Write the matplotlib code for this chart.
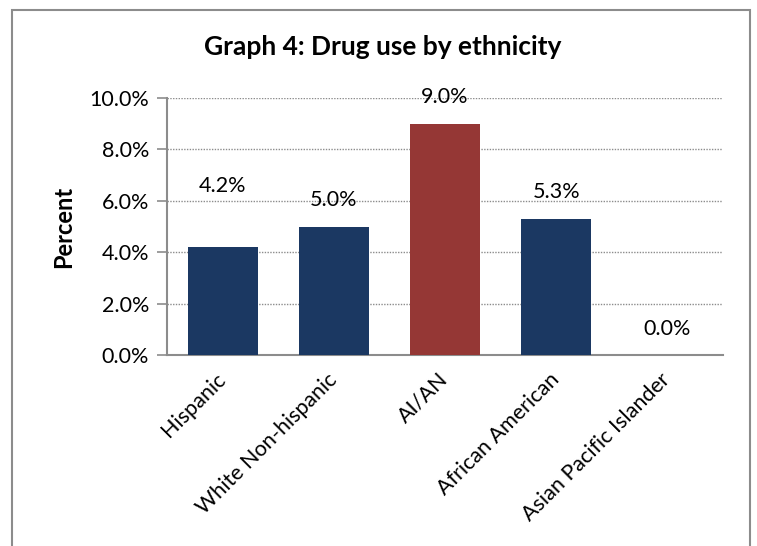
import matplotlib
matplotlib.use("Agg")
import matplotlib.pyplot as plt
from matplotlib.patches import Rectangle
from matplotlib.ticker import FuncFormatter

categories = ["Hispanic", "White Non-hispanic", "AI/AN", "African American", "Asian Pacific Islander"]
values = [4.2, 5.0, 9.0, 5.3, 0.0]
label_offsets_pt = [44, 19, 19, 19, 19]
bar_colors = ["#1B3862", "#1B3862", "#953735", "#1B3862", "#1B3862"]
yticks = [0, 2, 4, 6, 8, 10]

plt.rcParams['font.family'] = ['Lato', 'DejaVu Sans']

fig = plt.figure(figsize=(7.57, 5.46), dpi=100)
fig.patches.append(Rectangle((12/757, -0.05), (750-12)/757, 1.05 - 10/546,
                             transform=fig.transFigure, fill=False,
                             edgecolor="#8C8C8C", linewidth=1.5))
ax = fig.add_axes([167/757, 1-355/546, (723-167)/757, (355-98)/546])

x = range(len(categories))
ax.bar(x, values, width=0.63, color=bar_colors, zorder=3)
ax.set_xlim(-0.5, len(categories) - 0.5)
ax.set_ylim(0, 10)
ax.set_yticks(yticks)
ax.yaxis.set_major_formatter(FuncFormatter(lambda v, p: f"{v:.1f}%"))
ax.tick_params(axis='y', labelsize=15.5, length=7, color="#8C8C8C", pad=6, width=1.2)
ax.tick_params(axis='x', length=0, pad=8)
ax.set_xticks(list(x))
ax.set_xticklabels(categories, rotation=45, ha='right', va='center',
                   rotation_mode='anchor', fontsize=15.5)
for lbl in ax.get_xticklabels():
    lbl.set_y(-0.04)
ax.grid(axis='y', linestyle=(0, (1, 1)), color="#8C8C8C", linewidth=1, zorder=0)
for s in ["top", "right"]:
    ax.spines[s].set_visible(False)
for s in ["left", "bottom"]:
    ax.spines[s].set_color("#8C8C8C")
    ax.spines[s].set_linewidth(1.5)

for i, (v, off) in enumerate(zip(values, label_offsets_pt)):
    ax.annotate(f"{v:.1f}%", (i, v), xytext=(0, off), textcoords="offset points",
                ha='center', va='center', fontsize=15.5)

ax.set_ylabel("Percent", fontsize=17, fontweight='bold', labelpad=10)
fig.text(383/757, 1-47/546, "Graph 4: Drug use by ethnicity", ha='center', va='center',
         fontsize=19, fontweight='bold')

fig.savefig("out.png", dpi=100)
